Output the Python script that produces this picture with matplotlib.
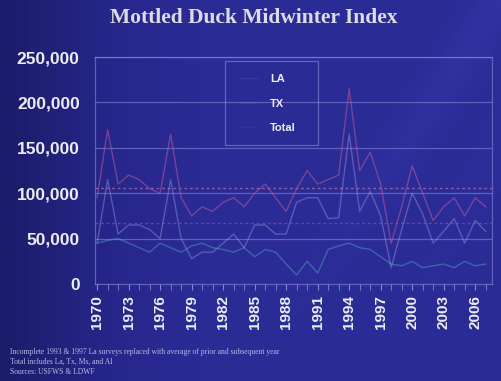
import numpy as np
import matplotlib
matplotlib.use("Agg")
import matplotlib.pyplot as plt
from matplotlib.colors import LinearSegmentedColormap
from matplotlib.patches import Rectangle

years = list(range(1970, 2008))
total = [95000, 170000, 110000, 120000, 115000, 105000, 100000, 165000, 95000, 75000,
         85000, 80000, 90000, 95000, 85000, 100000, 110000, 95000, 80000, 105000,
         125000, 110000, 115000, 120000, 215000, 125000, 145000, 110000, 45000, 85000,
         130000, 100000, 70000, 85000, 95000, 75000, 95000, 85000]
la = [45000, 115000, 55000, 65000, 65000, 60000, 50000, 115000, 50000, 28000,
      35000, 35000, 45000, 55000, 40000, 65000, 65000, 55000, 55000, 90000,
      95000, 95000, 72000, 73000, 165000, 80000, 102000, 75000, 18000, 60000,
      100000, 77000, 45000, 58000, 72000, 45000, 70000, 58000]
tx = [45000, 48000, 50000, 45000, 40000, 35000, 45000, 40000, 35000, 42000,
      45000, 40000, 38000, 35000, 40000, 30000, 38000, 35000, 22000, 10000,
      25000, 12000, 38000, 42000, 45000, 40000, 38000, 30000, 22000, 20000,
      25000, 18000, 20000, 22000, 18000, 25000, 20000, 22000]
tick_years = list(range(1970, 2007, 3))
y_ticks = [0, 50000, 100000, 150000, 200000, 250000]
notes = ["Incomplete 1993 & 1997 La surveys replaced with average of prior and subsequent year",
         "Total includes La, Tx, Ms, and Al",
         "Sources: USFWS & LDWF"]

W, H = 502, 381
fig = plt.figure(figsize=(W / 100, H / 100), dpi=100)

# slide-style blue background
bg = fig.add_axes([0, 0, 1, 1], zorder=-10)
bg.set_axis_off()
nx, ny = 200, 150
gx = np.linspace(0, 1, nx)[None, :]
gy = np.linspace(0, 1, ny)[:, None]
streak = np.exp(-((gx - gy * 0.5 - 0.5) ** 2) / 0.004) + 0.7 * np.exp(-((gx - gy * 0.4 - 0.75) ** 2) / 0.003)
val = 0.45 + 0.25 * np.clip(gx * 2.5, 0, 1) + 0.12 * streak * gy
cmap = LinearSegmentedColormap.from_list("slide", ["#18185e", "#26268a", "#2e2e9c", "#3c3cb0"])
bg.imshow(val, cmap=cmap, aspect="auto", extent=[0, 1, 0, 1], origin="lower", vmin=0.4, vmax=0.95)
bg.set_xlim(0, 1)
bg.set_ylim(0, 1)

ax = fig.add_axes([95 / W, 1 - 284 / H, 397 / W, 227 / H])
ax.set_facecolor("none")

grid_c = "#8585d6"
for y in y_ticks:
    ax.axhline(y, color=grid_c, lw=0.9, alpha=0.6, zorder=1)

ax.plot(years, tx, color="#4f9cc0", lw=1.0, alpha=0.5, label="TX", zorder=3)
ax.plot(years, la, color="#a09ce0", lw=1.0, alpha=0.42, label="LA", zorder=3)
ax.plot(years, total, color="#b45aa0", lw=1.0, alpha=0.55, label="Total", zorder=4)

# long-term averages
ax.axhline(np.mean(total), color="#d2809e", lw=1.0, ls=(0, (2, 2)), alpha=0.6, zorder=2)
ax.axhline(np.mean(la), color="#a84aa8", lw=1.0, ls=(0, (2, 2)), alpha=0.6, zorder=2)

ax.set_xlim(1969.8, 2007.6)
ax.set_ylim(0, 250000)
ax.set_yticks(y_ticks)
ax.set_yticklabels([f"{v:,}" for v in y_ticks])
ax.set_xticks(tick_years)
ax.set_xticklabels([str(y) for y in tick_years], rotation=90)
ax.set_xticks(years, minor=True)

for s in ax.spines.values():
    s.set_color(grid_c)
    s.set_alpha(0.6)
    s.set_linewidth(0.9)

ax.tick_params(axis="y", length=0, pad=11, labelcolor="#ececf2")
ax.tick_params(axis="x", which="both", length=4, color=grid_c, pad=4, labelcolor="#ececf2")
for lab in ax.get_yticklabels():
    lab.set_fontfamily("Liberation Sans")
    lab.set_fontweight("bold")
    lab.set_fontsize(12.5)
for lab in ax.get_xticklabels():
    lab.set_fontfamily("Liberation Sans")
    lab.set_fontweight("bold")
    lab.set_fontsize(11)

# legend: box outline plus entries
fig.patches.append(Rectangle((225 / W, 1 - 145 / H), 93 / W, 84 / H, transform=fig.transFigure,
                             fill=False, edgecolor=grid_c, lw=0.9, alpha=0.65, zorder=5))
handles, labels = ax.get_legend_handles_labels()
order = [1, 0, 2]
leg = ax.legend([handles[i] for i in order], [labels[i] for i in order],
                loc="upper left", bbox_to_anchor=((229 - 95) / 397, (284 - 64) / 227),
                frameon=False, handlelength=1.6, handletextpad=1.2,
                borderpad=0.9, labelspacing=1.32, borderaxespad=0,
                prop={"family": "Liberation Sans", "weight": "bold", "size": 8})
for t in leg.get_texts():
    t.set_color("#ececf2")
for h in leg.get_lines():
    h.set_alpha(0.12)

fig.text(254 / W, 1 - 18 / H, "Mottled Duck Midwinter Index", ha="center", va="center",
         family="Liberation Serif", weight="bold", size=15.5, color="#dcdce6")

for i, line in enumerate(notes):
    fig.text(10 / W, 1 - (352 + i * 10) / H, line, ha="left", va="center",
             family="Liberation Serif", size=5.5, color="#b8b8e6")

fig.savefig("out.png", dpi=100)
